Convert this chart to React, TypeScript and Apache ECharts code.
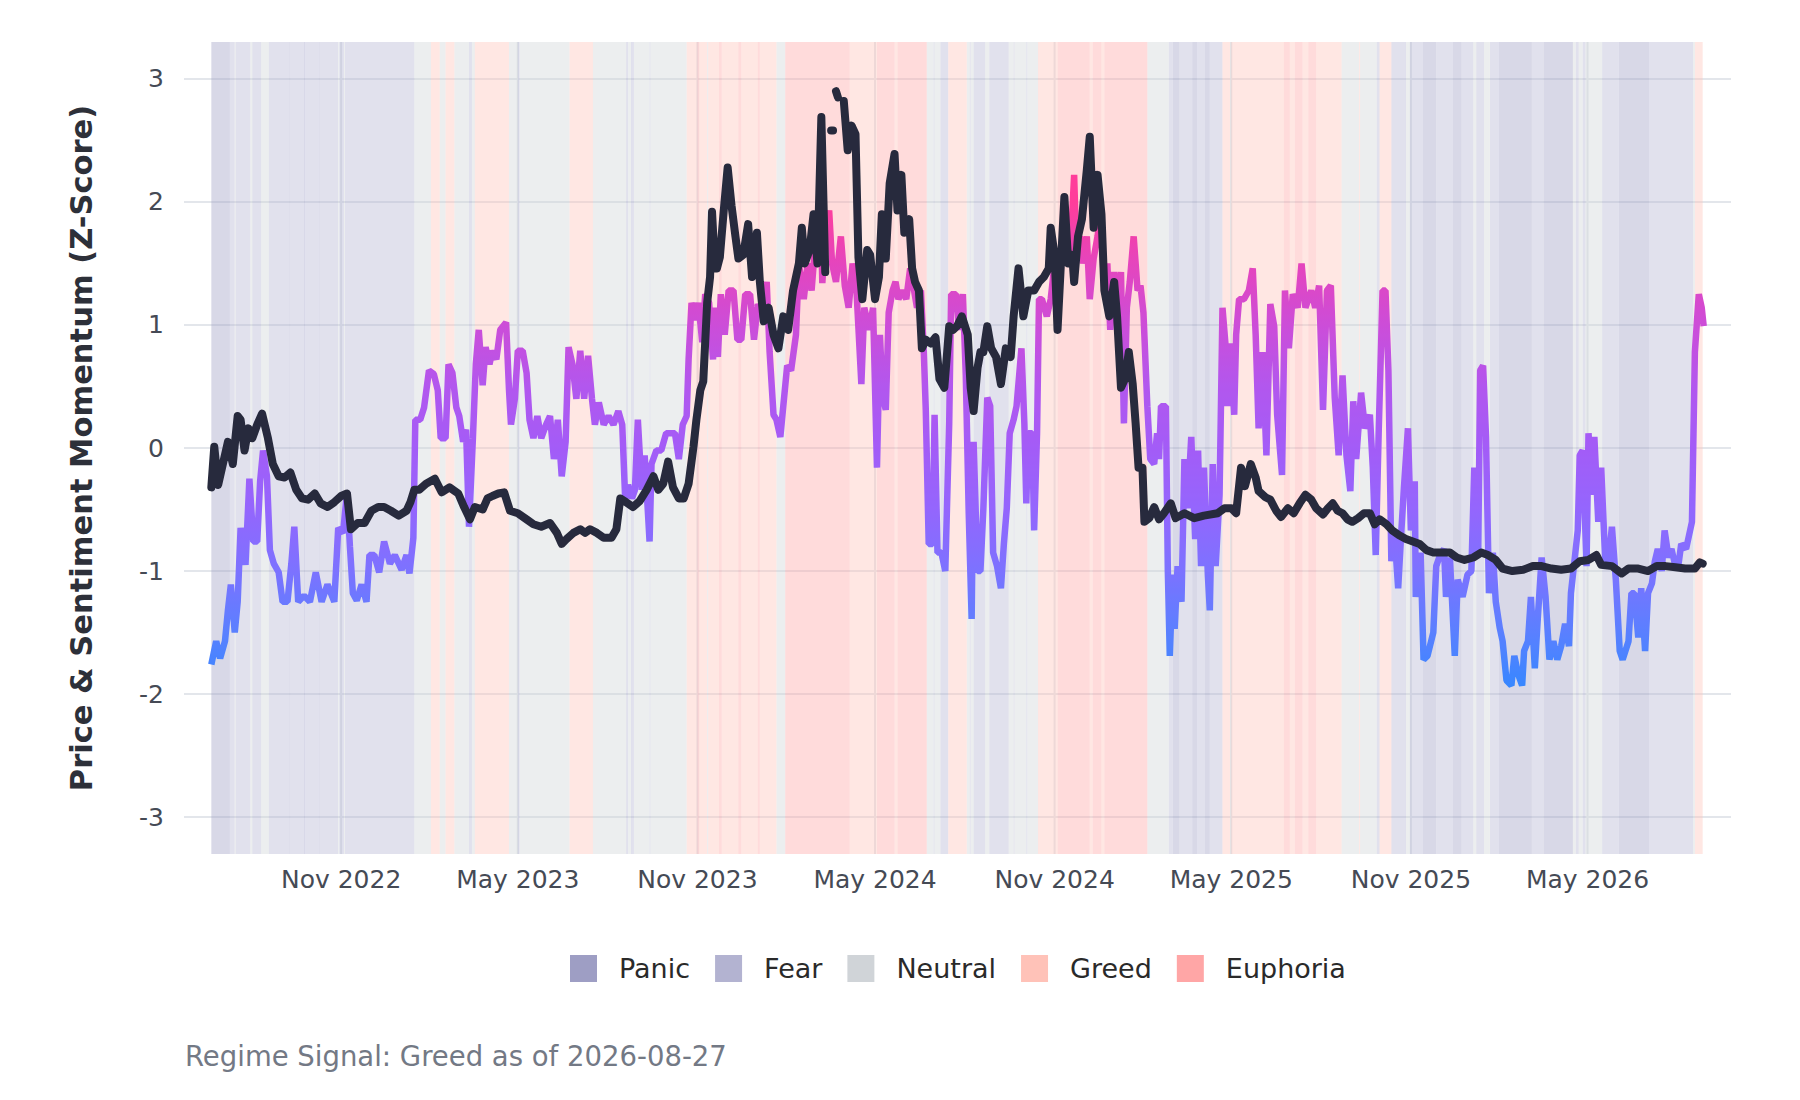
import React, { useEffect, useRef } from "react";
import * as echarts from "echarts";

const FONT = "DejaVu Sans";
const DAY = 86400000;
const START = Date.UTC(2022, 5, 21); // day 0 of the series
const AXIS_MIN = Date.UTC(2022, 4, 24);
const AXIS_MAX = Date.UTC(2026, 8, 25);

// x tick labels (first of month)
const xTickDates: [number, number][] = [
  [2022, 10], [2023, 4], [2023, 10], [2024, 4], [2024, 10], [2025, 4], [2025, 10], [2026, 4],
];
const MONTHS = ["Jan", "Feb", "Mar", "Apr", "May", "Jun", "Jul", "Aug", "Sep", "Oct", "Nov", "Dec"];
const yTicks = [-3, -2, -1, 0, 1, 2, 3];

// Price momentum (black line): day offsets and values (null = gap)
const priceDays = [
  0, 3, 7, 11, 17, 22, 27, 30, 34, 38, 42, 47, 52, 58, 63, 69, 75, 81, 87, 93, 99, 106, 112, 119, 126, 133, 139,
  143, 150, 157, 164, 171, 177, 184, 192, 200, 204, 208, 213, 220, 229, 236, 244, 253, 259, 265, 270, 278, 283,
  288, 294, 300, 306, 314, 323, 330, 338, 347, 354, 359, 364, 371, 378, 383, 388, 395, 402, 410, 415, 419, 425,
  432, 439, 446, 453, 458, 463, 468, 473, 479, 484, 489, 494, 497, 501, 504, 508, 511, 513, 516, 518, 521, 525,
  529, 533, 537, 540, 545, 550, 554, 559, 562, 566, 571, 576, 581, 586, 591, 596, 602, 605, 608, 613, 617, 621,
  625, 629, 631, 635, 637, 638, 640, 642, 644, 648, 652, 656, 660, 663, 667, 672, 675, 680, 684, 687, 691, 695,
  700, 703, 707, 710, 715, 718, 721, 725, 728, 732, 737, 742, 746, 751, 756, 760, 764, 769, 775, 778, 781, 785,
  788, 791, 795, 799, 804, 809, 814, 819, 822, 827, 832, 837, 843, 848, 853, 858, 860, 864, 867, 870, 874, 878,
  882, 884, 888, 892, 897, 900, 904, 908, 912, 915, 920, 925, 928, 932, 936, 940, 944, 947, 950, 954, 956, 961,
  966, 971, 976, 983, 988, 997, 1007, 1017, 1031, 1038, 1045, 1050, 1055, 1059, 1065, 1070, 1073, 1080, 1085,
  1091, 1096, 1103, 1109, 1115, 1121, 1127, 1132, 1139, 1144, 1149, 1154, 1159, 1164, 1169, 1175, 1181, 1187,
  1192, 1197, 1204, 1210, 1217, 1224, 1231, 1238, 1245, 1252, 1260, 1269, 1276, 1284, 1293, 1301, 1308, 1316,
  1323, 1333, 1344, 1354, 1363, 1373, 1383, 1393, 1402, 1411, 1419, 1424, 1435, 1445, 1452, 1462, 1472, 1481,
  1490, 1500, 1510, 1520, 1525, 1528,
];
const priceVals: (number | null)[] = [
  -0.32, 0.01, -0.3, -0.16, 0.05, -0.13, 0.26, 0.23, -0.02, 0.16, 0.08, 0.19, 0.28, 0.08, -0.13, -0.23, -0.24,
  -0.2, -0.34, -0.41, -0.42, -0.37, -0.45, -0.48, -0.44, -0.39, -0.37, -0.66, -0.61, -0.61, -0.51, -0.48, -0.48,
  -0.51, -0.55, -0.51, -0.44, -0.34, -0.34, -0.29, -0.25, -0.36, -0.32, -0.37, -0.48, -0.58, -0.48, -0.5, -0.41,
  -0.39, -0.37, -0.36, -0.51, -0.53, -0.58, -0.62, -0.64, -0.61, -0.69, -0.78, -0.74, -0.69, -0.66, -0.69, -0.66,
  -0.69, -0.73, -0.73, -0.66, -0.41, -0.44, -0.48, -0.43, -0.34, -0.23, -0.34, -0.29, -0.11, -0.32, -0.41, -0.41,
  -0.29, 0.01, 0.23, 0.47, 0.54, 1.18, 1.39, 1.92, 1.46, 1.46, 1.55, 1.93, 2.28, 1.97, 1.72, 1.54, 1.57, 1.82,
  1.39, 1.75, 1.35, 1.03, 1.14, 0.92, 0.81, 1.07, 0.96, 1.28, 1.5, 1.79, 1.5, 1.61, 1.9, 1.5, 2.69, 1.43, null,
  2.58, 2.58, null, 2.9, 2.85, null, 2.82, 2.42, 2.62, 2.55, 1.55, 1.21, 1.61, 1.57, 1.21, 1.39, 1.9, 1.54, 2.15,
  2.39, 1.93, 2.22, 1.75, 1.86, 1.46, 1.35, 1.28, 0.81, 0.88, 0.85, 0.9, 0.56, 0.49, 0.99, 0.96, 0.99, 1.07, 0.92,
  0.49, 0.3, 0.65, 0.78, 0.78, 0.99, 0.81, 0.74, 0.52, 0.81, 0.74, 1.07, 1.46, 1.07, 1.28, 1.28, 1.35, 1.39, 1.46,
  1.79, 1.57, 0.96, 1.43, 2.04, 1.5, 1.57, 1.35, 1.72, 1.86, 2.26, 2.53, 1.79, 2.22, 1.9, 1.28, 1.07, 1.35, 1.07,
  0.49, 0.56, 0.78, 0.52, 0.2, -0.16, -0.16, -0.6, -0.57, -0.48, -0.58, -0.53, -0.45, -0.57, -0.53, -0.57, -0.55,
  -0.53, -0.49, -0.49, -0.53, -0.16, -0.31, -0.13, -0.24, -0.35, -0.4, -0.42, -0.51, -0.56, -0.49, -0.53, -0.45,
  -0.38, -0.42, -0.49, -0.54, -0.49, -0.45, -0.51, -0.53, -0.58, -0.6, -0.57, -0.53, -0.53, -0.62, -0.58, -0.62,
  -0.67, -0.71, -0.74, -0.76, -0.78, -0.83, -0.85, -0.85, -0.85, -0.89, -0.91, -0.89, -0.85, -0.87, -0.91, -0.98,
  -1.0, -0.99, -0.96, -0.96, -0.98, -0.99, -0.98, -0.92, -0.91, -0.87, -0.95, -0.96, -1.02, -0.98, -0.98, -1.0,
  -0.96, -0.96, -0.97, -0.98, -0.98, -0.93, -0.94,
];

// Sentiment momentum (gradient line)
const sentDays = [
  0, 5, 9, 14, 17, 20, 24, 27, 30, 35, 39, 43, 47, 50, 53, 57, 60, 64, 69, 73, 78, 82, 85, 89, 95, 101, 107, 113,
  119, 126, 130, 135, 139, 142, 145, 149, 154, 159, 162, 167, 172, 177, 183, 188, 195, 200, 203, 207, 209, 214,
  218, 223, 228, 232, 235, 240, 243, 247, 251, 254, 258, 261, 264, 268, 271, 274, 278, 281, 285, 288, 292, 296,
  302, 305, 307, 311, 314, 319, 323, 326, 330, 334, 338, 343, 347, 351, 355, 359, 363, 366, 370, 374, 378, 382,
  386, 390, 393, 397, 402, 407, 412, 417, 421, 424, 427, 431, 434, 437, 441, 444, 449, 451, 456, 461, 466, 471,
  475, 479, 483, 487, 489, 492, 496, 499, 503, 506, 510, 514, 516, 519, 522, 526, 530, 535, 539, 543, 547, 552,
  556, 560, 565, 569, 572, 576, 579, 583, 586, 590, 594, 599, 602, 607, 611, 615, 619, 622, 624, 626, 629, 633,
  636, 640, 645, 649, 653, 657, 661, 666, 669, 674, 678, 682, 685, 688, 691, 694, 698, 701, 704, 708, 712, 716,
  720, 723, 727, 730, 732, 735, 739, 741, 744, 748, 752, 756, 758, 763, 766, 770, 773, 776, 779, 781, 785, 788,
  791, 795, 798, 801, 805, 809, 812, 815, 818, 822, 825, 830, 833, 835, 837, 841, 843, 846, 848, 851, 856, 860,
  863, 867, 871, 875, 880, 884, 886, 890, 893, 897, 900, 904, 908, 911, 915, 918, 921, 925, 928, 932, 935, 938,
  941, 945, 949, 952, 955, 959, 962, 966, 969, 971, 973, 978, 980, 982, 985, 987, 990, 994, 997, 1000, 1004, 1008,
  1011, 1014, 1017, 1021, 1023, 1026, 1029, 1033, 1036, 1039, 1041, 1044, 1048, 1050, 1053, 1058, 1063, 1067,
  1070, 1073, 1077, 1081, 1085, 1089, 1092, 1097, 1100, 1104, 1108, 1113, 1117, 1121, 1127, 1131, 1135, 1139,
  1143, 1147, 1151, 1155, 1159, 1163, 1167, 1170, 1173, 1178, 1182, 1187, 1190, 1193, 1196, 1200, 1203, 1206,
  1209, 1212, 1216, 1219, 1222, 1226, 1229, 1233, 1234, 1239, 1242, 1246, 1252, 1255, 1258, 1263, 1265, 1269,
  1274, 1277, 1282, 1287, 1291, 1294, 1298, 1300, 1303, 1306, 1309, 1313, 1316, 1320, 1323, 1327, 1332, 1335,
  1339, 1343, 1345, 1349, 1352, 1356, 1359, 1363, 1367, 1371, 1375, 1379, 1383, 1387, 1391, 1393, 1397, 1400,
  1402, 1405, 1409, 1411, 1415, 1417, 1421, 1424, 1428, 1431, 1435, 1439, 1443, 1446, 1452, 1455, 1458, 1462,
  1465, 1469, 1472, 1476, 1479, 1482, 1486, 1489, 1493, 1496, 1500, 1503, 1506, 1511, 1514, 1517, 1520, 1524,
  1527, 1529,
];
const sentVals = [
  -1.76, -1.57, -1.71, -1.57, -1.32, -1.11, -1.5, -1.25, -0.65, -0.95, -0.25, -0.76, -0.76, -0.27, -0.02, -0.23,
  -0.83, -0.94, -1.01, -1.25, -1.25, -0.94, -0.64, -1.25, -1.2, -1.25, -1.01, -1.25, -1.11, -1.25, -0.65, -0.69,
  -0.36, -0.8, -1.18, -1.24, -1.11, -1.25, -0.87, -0.87, -1.01, -0.76, -0.94, -0.87, -0.99, -0.87, -1.02, -0.73,
  0.23, 0.23, 0.33, 0.63, 0.6, 0.47, 0.08, 0.08, 0.68, 0.61, 0.33, 0.26, 0.05, 0.15, -0.64, 0.08, 0.68, 0.96,
  0.51, 0.82, 0.68, 0.79, 0.72, 0.96, 1.02, 0.47, 0.19, 0.4, 0.79, 0.79, 0.61, 0.23, 0.08, 0.26, 0.08, 0.19, 0.26,
  -0.09, 0.23, -0.23, 0.05, 0.82, 0.68, 0.4, 0.79, 0.4, 0.75, 0.4, 0.19, 0.37, 0.19, 0.26, 0.19, 0.3, 0.19, -0.41,
  -0.3, -0.41, -0.34, 0.23, -0.34, -0.06, -0.76, -0.13, -0.02, -0.02, 0.12, 0.12, 0.12, -0.09, 0.19, 0.26, 0.72,
  1.18, 1.04, 1.18, 0.86, 1.25, 1.18, 0.72, 1.14, 0.74, 1.25, 0.92, 1.28, 1.28, 0.88, 0.88, 1.25, 1.25, 0.88,
  1.17, 1.07, 1.35, 0.78, 0.27, 0.23, 0.09, 0.34, 0.67, 0.63, 0.92, 1.5, 1.21, 1.5, 1.28, 1.68, 1.5, 2.04, 1.34,
  1.72, 1.93, 1.5, 1.35, 1.72, 1.32, 1.14, 1.5, 1.28, 0.52, 1.14, 0.96, 1.14, -0.16, 0.92, 0.41, 0.31, 1.1, 1.28,
  1.35, 1.21, 1.28, 1.21, 1.46, 1.28, 1.14, 1.28, 0.78, 0.31, -0.78, -0.78, 0.27, -0.85, -0.85, -1.0, 0.2, 1.25,
  1.25, 0.96, 1.25, 0.59, -0.53, -1.39, 0.05, -1.0, -1.0, -0.49, 0.41, 0.34, -0.85, -0.96, -1.14, -0.78, -0.49,
  0.12, 0.23, 0.34, 0.81, 0.2, -0.45, 0.12, 0.12, -0.67, 0.12, 1.21, 1.21, 1.07, 1.21, 1.43, 1.1, 1.57, 1.93, 1.57,
  2.22, 1.68, 1.72, 1.5, 1.72, 1.21, 1.54, 1.72, 1.9, 1.28, 1.5, 0.96, 1.43, 1.14, 1.43, 0.2, 1.14, 1.35, 1.72,
  1.28, 1.32, 1.1, 0.34, -0.09, -0.13, 0.12, -0.09, 0.34, 0.34, -1.0, -1.69, -1.03, -1.47, -0.96, -1.25, -0.09,
  -0.49, 0.09, -0.74, -0.02, -0.96, -0.16, -1.03, -1.32, -0.13, -0.96, -0.38, 1.14, 0.85, 0.34, 0.85, 0.27, 0.92,
  1.21, 1.21, 1.28, 1.46, 0.92, 0.16, 0.78, -0.06, 1.17, 0.99, 0.27, -0.22, 1.28, 0.81, 1.25, 1.14, 1.5, 1.14,
  1.28, 1.14, 1.32, 0.31, 1.28, 1.32, 0.41, -0.06, 0.59, -0.06, -0.35, 0.38, -0.09, 0.45, 0.16, 0.27, -0.16, -0.87,
  0.12, 1.28, 1.28, 0.63, -0.92, -0.67, -1.14, -0.71, -0.31, 0.16, -0.67, -0.27, -1.21, -0.85, -1.72, -1.69, -1.5,
  -0.96, -0.89, -0.82, -1.21, -0.89, -1.69, -1.07, -1.21, -1.03, -1.0, -0.16, -0.85, 0.63, 0.67, 0.09, -1.18,
  -0.85, -1.25, -1.46, -1.57, -1.89, -1.93, -1.69, -1.84, -1.93, -1.65, -1.57, -1.21, -1.79, -1.39, -0.89, -1.21,
  -1.72, -1.57, -1.72, -1.61, -1.43, -1.61, -1.18, -0.89, -0.67, -0.06, -0.02, -0.96, 0.12, -0.38, 0.09, -0.6,
  -0.16, -0.89, -0.96, -0.64, -1.07, -1.65, -1.72, -1.57, -1.18, -1.18, -1.54, -1.14, -1.65, -1.18, -1.1, -0.92,
  -0.82, -1.0, -0.67, -0.89, -0.82, -0.96, -0.96, -0.78, -0.82, -0.71, -0.6, 0.78, 1.25, 1.14, 0.99,
];

// Regime bands: start day of each segment (runs until the next start) and its regime
const REGIME_END = 1528;
const regimeStarts = [
  0, 19, 24, 25, 40, 42, 51, 59, 80, 81, 95, 96, 110, 111, 130, 131, 136, 137, 208, 225, 234, 240, 249, 264, 267,
  270, 305, 314, 316, 367, 391, 425, 427, 430, 433, 449, 450, 487, 498, 500, 508, 509, 520, 523, 540, 543, 560,
  562, 579, 588, 654, 682, 700, 703, 733, 740, 741, 747, 755, 774, 777, 778, 781, 793, 797, 817, 822, 823, 835,
  836, 847, 867, 900, 903, 912, 915, 959, 981, 985, 992, 1005, 1010, 1018, 1023, 1036, 1044, 1045, 1099, 1105,
  1110, 1118, 1124, 1132, 1158, 1176, 1177, 1194, 1197, 1209, 1224, 1228, 1241, 1255, 1272, 1281, 1293, 1296,
  1304, 1310, 1319, 1353, 1365, 1395, 1398, 1401, 1405, 1408, 1425, 1442, 1473, 1518, 1520,
];
const regimeOf = [
  "Panic", "Fear", "Neutral", "Fear", "Neutral", "Fear", "Neutral", "Fear", "Panic", "Fear", "Panic", "Fear",
  "Panic", "Fear", "Neutral", "Fear", "Neutral", "Fear", "Neutral", "Greed", "Neutral", "Greed", "Neutral", "Fear",
  "Neutral", "Greed", "Neutral", "Fear", "Neutral", "Greed", "Neutral", "Fear", "Neutral", "Fear", "Neutral",
  "Fear", "Neutral", "Greed", "Euphoria", "Greed", "Neutral", "Greed", "Euphoria", "Greed", "Euphoria", "Greed",
  "Euphoria", "Greed", "Neutral", "Euphoria", "Greed", "Euphoria", "Greed", "Euphoria", "Neutral", "Fear",
  "Neutral", "Fear", "Greed", "Neutral", "Fear", "Neutral", "Fear", "Neutral", "Fear", "Neutral", "Fear", "Neutral",
  "Fear", "Neutral", "Greed", "Euphoria", "Greed", "Euphoria", "Greed", "Euphoria", "Neutral", "Fear", "Panic",
  "Fear", "Panic", "Fear", "Panic", "Fear", "Greed", "Neutral", "Greed", "Euphoria", "Greed", "Euphoria", "Greed",
  "Euphoria", "Greed", "Neutral", "Greed", "Neutral", "Fear", "Greed", "Fear", "Neutral", "Fear", "Panic", "Fear",
  "Panic", "Fear", "Neutral", "Fear", "Neutral", "Fear", "Panic", "Fear", "Panic", "Neutral", "Fear", "Neutral",
  "Fear", "Neutral", "Fear", "Panic", "Fear", "Neutral", "Greed",
];
const regimeNames = ["Panic", "Fear", "Neutral", "Greed", "Euphoria"];
const regimeColors = ["#9e9ec4", "#b3b3d1", "#d0d4d8", "#ffc2b8", "#ffa6a6"];

const sentColors = ["#3388ff", "#5a80ff", "#7c72ff", "#9466fd", "#a35cf7", "#b257ee", "#cc4dd8", "#e545bd", "#ff3d9a"];
const GRID_COLOR = "#e3e6eb";

const ts = (d: number) => START + d * DAY;

export default function App() {
  const ref = useRef<HTMLDivElement>(null);
  useEffect(() => {
    if (!ref.current) return;
    const chart = echarts.init(ref.current, null, { renderer: "svg" });
    const xTickTs = xTickDates.map(([y, m]) => Date.UTC(y, m, 1));

    const bandSeries = regimeNames.map((name, k) => ({
      type: "custom",
      name,
      z: 1,
      silent: true,
      itemStyle: { color: regimeColors[k] },
      encode: { x: [0, 1], y: 2 },
      data: regimeStarts
        .map((s, i) => ({ s, e: i + 1 < regimeStarts.length ? regimeStarts[i + 1] : REGIME_END, r: regimeOf[i] }))
        .filter((o) => o.r === name)
        .map((o) => [ts(o.s), ts(o.e), 0]),
      renderItem: (params: any, api: any) => {
        const x0 = api.coord([api.value(0), 0])[0];
        const x1 = api.coord([api.value(1), 0])[0];
        const cs = params.coordSys;
        return {
          type: "rect",
          shape: { x: x0, y: cs.y, width: Math.max(x1 - x0, 0.6), height: cs.height },
          style: { fill: regimeColors[k], opacity: 0.4 },
        };
      },
    }));

    const vgrid = {
      type: "custom",
      name: "vgrid",
      z: 0,
      silent: true,
      encode: { x: 0, y: 1 },
      data: xTickTs.map((t) => [t, 0]),
      renderItem: (params: any, api: any) => {
        const x = api.coord([api.value(0), 0])[0];
        const cs = params.coordSys;
        return {
          type: "line",
          shape: { x1: x, y1: cs.y, x2: x, y2: cs.y + cs.height },
          style: { stroke: GRID_COLOR, lineWidth: 2 },
        };
      },
    };

    const sentData = sentDays.map((d, i) => [ts(d), sentVals[i]]);
    const priceData = priceDays.map((d, i) => [ts(d), priceVals[i]]);

    const series: any[] = [
      vgrid,
      ...bandSeries,
      {
        type: "line",
        name: "Sentiment",
        data: sentData,
        showSymbol: false,
        z: 3,
        lineStyle: { width: 6.5, cap: "butt", join: "bevel" },
      },
      {
        type: "line",
        name: "Price",
        data: priceData,
        showSymbol: false,
        connectNulls: false,
        z: 4,
        lineStyle: { width: 8, color: "#272a3d", cap: "round", join: "round" },
        itemStyle: { color: "#272a3d" },
      },
    ];
    const sentIndex = series.findIndex((s) => s.name === "Sentiment");

    chart.setOption({
      animation: false,
      textStyle: { fontFamily: FONT },
      grid: { left: 184, right: 69, top: 42, bottom: 246, containLabel: false },
      xAxis: {
        type: "value",
        min: AXIS_MIN,
        max: AXIS_MAX,
        axisLine: { show: false },
        axisTick: { show: false },
        splitLine: { show: false },
        axisLabel: {
          customValues: xTickTs,
          formatter: (v: number) => {
            const d = new Date(v);
            return MONTHS[d.getUTCMonth()] + " " + d.getUTCFullYear();
          },
          fontSize: 25,
          color: "#454a55",
          fontFamily: FONT,
          margin: 13,
          hideOverlap: false,
        },
      },
      yAxis: {
        type: "value",
        min: -3.3,
        max: 3.3,
        name: "Price & Sentiment Momentum (Z-Score)",
        nameLocation: "middle",
        nameRotate: 90,
        nameGap: 87,
        nameTextStyle: { fontSize: 30.5, fontWeight: "bold", color: "#2d3039", fontFamily: FONT },
        axisLine: { show: false },
        axisTick: { show: false },
        splitLine: { show: true, showMinLine: false, showMaxLine: false, lineStyle: { color: GRID_COLOR, width: 2 } },
        axisLabel: {
          customValues: yTicks,
          fontSize: 25,
          color: "#454a55",
          fontFamily: FONT,
          margin: 20,
        },
      },
      visualMap: {
        show: false,
        type: "continuous",
        seriesIndex: sentIndex,
        dimension: 1,
        min: -2,
        max: 2,
        inRange: { color: sentColors },
      },
      legend: {
        data: regimeNames,
        icon: "rect",
        itemWidth: 27,
        itemHeight: 27,
        itemGap: 25,
        left: 565,
        top: 950,
        textStyle: { fontSize: 27, color: "#2a2a2a", fontFamily: FONT, padding: [0, 0, 0, 17] },
        selectedMode: false,
      },
      graphic: [
        {
          type: "text",
          left: 185,
          top: 1042,
          style: {
            text: "Regime Signal: Greed as of 2026-08-27",
            fontSize: 27.5,
            fill: "#737985",
            fontFamily: FONT,
          },
        },
      ],
      series,
    });
    return () => chart.dispose();
  }, []);
  return (
    <div
      ref={ref}
      style={{ position: "absolute", left: 0, top: 0, width: 1800, height: 1100, background: "#fff" }}
    />
  );
}
